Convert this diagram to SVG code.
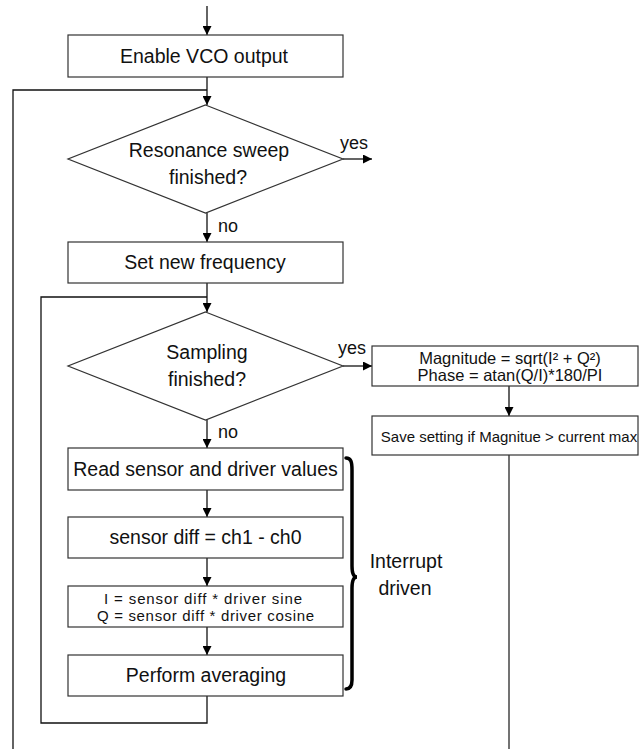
<svg xmlns="http://www.w3.org/2000/svg" width="639" height="749" viewBox="0 0 639 749">
<defs>
<marker id="arr" viewBox="0 0 10 10" refX="10" refY="5" markerWidth="9" markerHeight="9" markerUnits="userSpaceOnUse" orient="auto">
<path d="M0,0 L10,5 L0,10 z" fill="#000"/>
</marker>
<style>
.box{fill:#fff;stroke:#333;stroke-width:1.2}
.ln{fill:none;stroke:#111;stroke-width:1.3}
.ar{fill:none;stroke:#111;stroke-width:1.3;marker-end:url(#arr)}
text{font-family:"Liberation Sans",Arial,sans-serif;fill:#111;text-anchor:middle}
.t{font-size:19.5px}
.s{font-size:16.5px}
.iq{font-size:15px}
.xs{font-size:15px}
.lb{font-size:18px;text-anchor:start}
</style>
</defs>
<rect width="639" height="749" fill="#fff"/>
<g id="connectors">
<line class="ar" x1="207" y1="6" x2="207" y2="35"/>
<line class="ar" x1="207" y1="77" x2="207" y2="105"/>
<polyline class="ln" points="207,90 13,90 13,749"/>
<line class="ar" x1="343" y1="159" x2="372" y2="159"/>
<line class="ar" x1="207" y1="213" x2="207" y2="242"/>
<line class="ar" x1="207" y1="283" x2="207" y2="312"/>
<polyline class="ln" points="207,297 41,297 41,723 207,723 207,696"/>
<line class="ar" x1="343" y1="366" x2="372" y2="366"/>
<line class="ar" x1="207" y1="420" x2="207" y2="448"/>
<line class="ar" x1="207" y1="490" x2="207" y2="517"/>
<line class="ar" x1="207" y1="558" x2="207" y2="586"/>
<line class="ar" x1="207" y1="627" x2="207" y2="655"/>
<line class="ar" x1="509" y1="386" x2="509" y2="416"/>
<line x1="509" y1="455" x2="509" y2="749" stroke="#444" stroke-width="1.5"/>
</g>
<g id="labels">
<text class="lb" x="340" y="149">yes</text>
<text class="lb" x="338" y="354">yes</text>
<text class="lb" x="218" y="232">no</text>
<text class="lb" x="218" y="438">no</text>
</g>
<g id="enable-vco">
<rect class="box" x="68" y="35" width="275" height="42"/>
<text class="t" x="204" y="63">Enable VCO output</text>
</g>
<g id="resonance-sweep">
<polygon class="box" points="205.5,105 343,159 205.5,213 68,159"/>
<text class="t" x="209" y="157">Resonance sweep</text>
<text class="t" x="208" y="184">finished?</text>
</g>
<g id="set-frequency">
<rect class="box" x="68" y="242" width="275" height="41"/>
<text class="t" x="205" y="269">Set new frequency</text>
</g>
<g id="sampling">
<polygon class="box" points="205.5,312 343,366 205.5,420 68,366"/>
<text class="t" x="207" y="359">Sampling</text>
<text class="t" x="207" y="386">finished?</text>
</g>
<g id="read-sensor">
<rect class="box" x="68" y="448" width="275" height="42"/>
<text class="t" x="205.5" y="476">Read sensor and driver values</text>
</g>
<g id="sensor-diff">
<rect class="box" x="68" y="517" width="275" height="41"/>
<text class="t" x="205.5" y="544">sensor diff = ch1 - ch0</text>
</g>
<g id="iq">
<rect class="box" x="68" y="586" width="275" height="41"/>
<text class="iq" x="203" y="604" textLength="198" lengthAdjust="spacing">I = sensor diff * driver sine</text>
<text class="iq" x="205.5" y="620.5" textLength="217" lengthAdjust="spacing">Q = sensor diff * driver cosine</text>
</g>
<g id="averaging">
<rect class="box" x="68" y="655" width="275" height="41"/>
<text class="t" x="206" y="682">Perform averaging</text>
</g>
<g id="magnitude">
<rect class="box" x="372" y="346" width="266" height="40"/>
<text class="s" x="510" y="364">Magnitude = sqrt(I² + Q²)</text>
<text class="s" x="510" y="381">Phase = atan(Q/I)*180/PI</text>
</g>
<g id="save-setting">
<rect class="box" x="372" y="416" width="266" height="39"/>
<text class="xs" x="509" y="442">Save setting if Magnitue &gt; current max</text>
</g>
<g id="interrupt-brace">
<path d="M346,458 C351,458 352,462 352,470 L352,566 C352,573 354,577 357,577 C354,577 352,581 352,588 L352,680 C352,686 350,689 346,689" fill="none" stroke="#000" stroke-width="3.5" stroke-linecap="round"/>
<text class="t" x="406" y="568">Interrupt</text>
<text class="t" x="405" y="595">driven</text>
</g>
</svg>
